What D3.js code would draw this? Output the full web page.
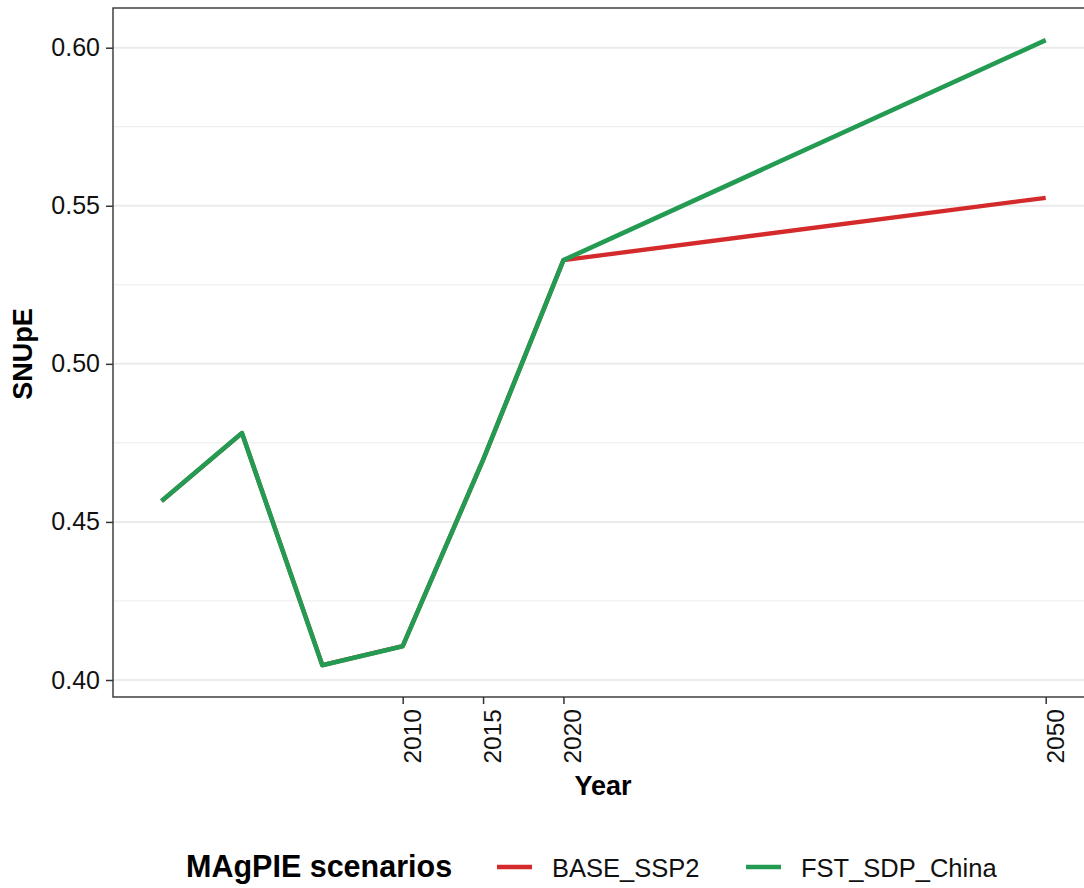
<!DOCTYPE html>
<html>
<head>
<meta charset="utf-8">
<script src="https://cdn.jsdelivr.net/npm/d3@7"></script>
<style>
  body { margin: 0; background: #fff; }
  svg { display: block; font-family: "Liberation Sans", Arial, sans-serif; }
</style>
</head>
<body>
<svg id="chart" width="1084" height="888"></svg>
<script>
// data
const years = [1995, 2000, 2005, 2010, 2015, 2020, 2050];
const baseSSP2 = [0.4566, 0.4781, 0.4047, 0.4107, 0.4696, 0.5328, 0.5525];
const fstSDPChina = [0.4566, 0.4781, 0.4047, 0.4107, 0.4696, 0.5328, 0.6024];
const xTicks = [2010, 2015, 2020, 2050];
const yMajor = [0.40, 0.45, 0.50, 0.55, 0.60];
const yMinor = [0.425, 0.475, 0.525, 0.575];
const scenarios = ['BASE_SSP2', 'FST_SDP_China'];
const colors = ['#d42a2b', '#239b52'];

const svg = d3.select('#chart');
const panel = {left: 113, top: 8, right: 1085, bottom: 697};

const x = d3.scaleLinear().domain([2010, 2050]).range([402.7, 1045.7]);
const y = d3.scaleLinear().domain([0.40, 0.60]).range([680, 47.7]);

// grid
svg.append('g').selectAll('line').data(yMinor).join('line')
    .attr('x1', panel.left).attr('x2', panel.right)
    .attr('y1', d => y(d)).attr('y2', d => y(d))
    .attr('stroke', '#ebebeb').attr('stroke-width', 1);
svg.append('g').selectAll('line').data(yMajor).join('line')
    .attr('x1', panel.left).attr('x2', panel.right)
    .attr('y1', d => y(d)).attr('y2', d => y(d))
    .attr('stroke', '#ebebeb').attr('stroke-width', 2);

// lines (green drawn last, on top)
const series = [baseSSP2, fstSDPChina];
const line = d3.line().x((d, i) => x(years[i])).y(d => y(d));
svg.append('g').selectAll('path').data(series).join('path')
    .attr('d', d => line(d))
    .attr('fill', 'none')
    .attr('stroke', (d, i) => colors[i])
    .attr('stroke-width', (d, i) => i === 1 ? 4.6 : 4.3)
    .attr('stroke-linejoin', 'round');

// panel border
svg.append('rect')
    .attr('x', panel.left).attr('y', panel.top)
    .attr('width', panel.right - panel.left).attr('height', panel.bottom - panel.top)
    .attr('fill', 'none').attr('stroke', '#333').attr('stroke-width', 1.4);

// y axis
const yAxis = svg.append('g')
    .attr('transform', `translate(${panel.left},0)`)
    .call(d3.axisLeft(y).tickValues(yMajor).tickFormat(d3.format('.2f')).tickSize(7).tickPadding(6));
yAxis.select('.domain').remove();
yAxis.selectAll('.tick line').attr('stroke', '#333').attr('stroke-width', 1.5);
yAxis.selectAll('.tick text')
    .attr('font-size', 25).attr('fill', '#111')
    .attr('font-family', '"Liberation Sans", Arial, sans-serif');

// x axis
const xAxis = svg.append('g')
    .attr('transform', `translate(0,${panel.bottom})`)
    .call(d3.axisBottom(x).tickValues(xTicks).tickFormat(d3.format('d')).tickSize(7));
xAxis.select('.domain').remove();
xAxis.selectAll('.tick line').attr('stroke', '#333').attr('stroke-width', 1.5);
xAxis.selectAll('.tick text')
    .attr('font-size', 24.5).attr('fill', '#111')
    .attr('font-family', '"Liberation Sans", Arial, sans-serif')
    .attr('text-anchor', 'end')
    .attr('dy', null)
    .attr('transform', 'translate(17.5,12) rotate(-90)')
    .attr('x', 0).attr('y', 0);

// axis titles
svg.append('text')
    .attr('x', 603).attr('y', 795)
    .attr('text-anchor', 'middle')
    .attr('font-size', 27).attr('font-weight', 'bold').attr('fill', '#000')
    .text('Year');
svg.append('text')
    .attr('transform', 'translate(32,354) rotate(-90)')
    .attr('text-anchor', 'middle')
    .attr('font-size', 27).attr('font-weight', 'bold').attr('fill', '#000')
    .text('SNUpE');

// legend
const legend = svg.append('g');
legend.append('text')
    .attr('x', 186).attr('y', 877)
    .attr('font-size', 30.5).attr('font-weight', 'bold').attr('fill', '#000')
    .text('MAgPIE scenarios');
const keyX = [497, 746];
const items = legend.selectAll('g.item').data(scenarios).join('g').attr('class', 'item');
items.append('line')
    .attr('x1', (d, i) => keyX[i]).attr('x2', (d, i) => keyX[i] + 35)
    .attr('y1', 867).attr('y2', 867)
    .attr('stroke', (d, i) => colors[i]).attr('stroke-width', 4.5);
items.append('text')
    .attr('x', (d, i) => keyX[i] + 55).attr('y', 877)
    .attr('font-size', 25.5).attr('fill', '#111')
    .text(d => d);
</script>
</body>
</html>
